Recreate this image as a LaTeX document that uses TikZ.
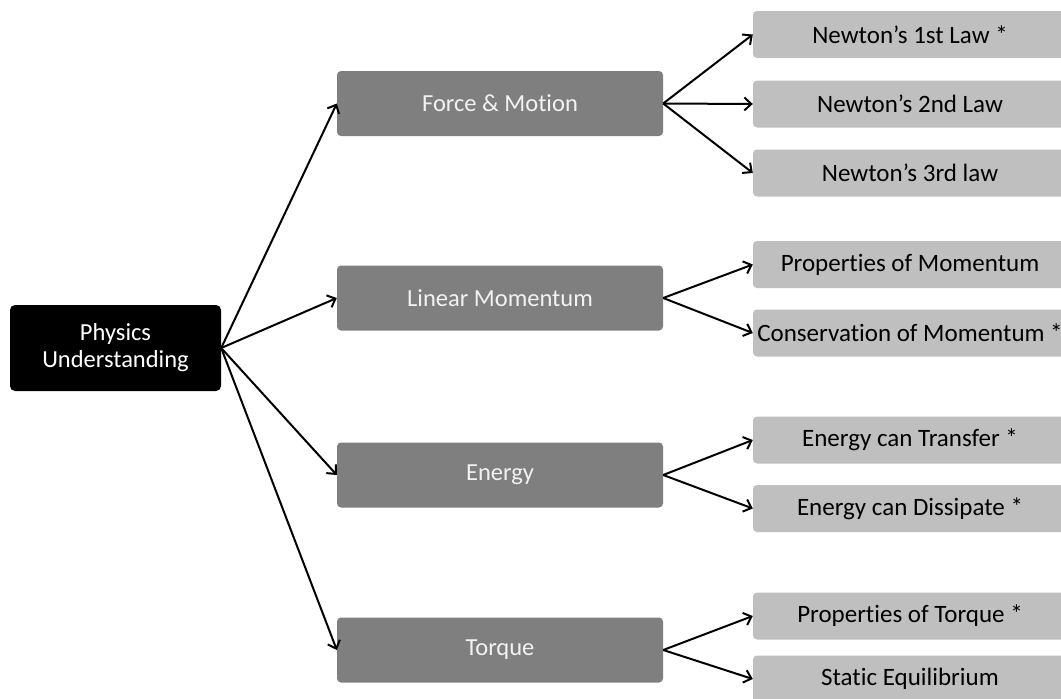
\documentclass[tikz,border=0pt]{standalone}
\usepackage{fontspec}
\setmainfont{Carlito}[Ligatures=NoCommon]
\usepackage{xcolor}
\usetikzlibrary{arrows.meta,positioning}
\definecolor{midgray}{HTML}{7F7F7F}
\definecolor{leafgray}{HTML}{BFBFBF}
\tikzset{
  rootbox/.style={fill=black, rounded corners=5pt, align=center, text=white, minimum width=211pt, minimum height=86pt, font=\fontsize{24.5}{27}\selectfont},
  topic/.style  ={fill=midgray, rounded corners=4pt, align=center, text=white!95!black, minimum width=326pt, minimum height=65pt, font=\fontsize{24.5}{27}\selectfont},
  leaf/.style   ={fill=leafgray, rounded corners=4pt, align=center, text=black, minimum width=314pt, minimum height=47pt, inner xsep=0pt, font=\fontsize{25}{28}\selectfont},
  arr/.style    ={-{Straight Barb[length=7pt,width=13pt]}, line width=2pt},
}
\begin{document}
\begin{tikzpicture}[x=1pt, y=-1pt]
  \useasboundingbox (0,0) rectangle (1061,699);
  \node[rootbox] (pu) at (115.5,348) {Physics\\Understanding};
  \node[topic] (fm) at (500,103.5) {Force \& Motion};
  \node[topic] (lm) at (500,298) {Linear Momentum};
  \node[topic] (en) at (500,475) {Energy};
  \node[topic] (tq) at (500,650) {Torque};
  \node[leaf] (n1) at (910,34.5) {Newton’s 1st Law *};
  \node[leaf] (n2) at (910,104) {Newton’s 2nd Law};
  \node[leaf] (n3) at (910,173) {Newton’s 3rd law};
  \node[leaf] (pm) at (910,264.5) {Properties of Momentum};
  \node[leaf] (cm) at (910,333) {Conservation of Momentum *};
  \node[leaf] (et) at (910,440) {Energy can Transfer *};
  \node[leaf] (ed) at (910,508.5) {Energy can Dissipate *};
  \node[leaf] (pt) at (910,616) {Properties of Torque *};
  \node[leaf] (se) at (910,679) {Static Equilibrium};
  \foreach \t in {fm,lm,en,tq}
    \draw[arr] (pu.east) -- (\t.west);
  \foreach \l in {n1,n2,n3}
    \draw[arr] (fm.east) -- (\l.west);
  \foreach \l in {pm,cm}
    \draw[arr] (lm.east) -- (\l.west);
  \foreach \l in {et,ed}
    \draw[arr] (en.east) -- (\l.west);
  \foreach \l in {pt,se}
    \draw[arr] (tq.east) -- (\l.west);
\end{tikzpicture}
\end{document}
